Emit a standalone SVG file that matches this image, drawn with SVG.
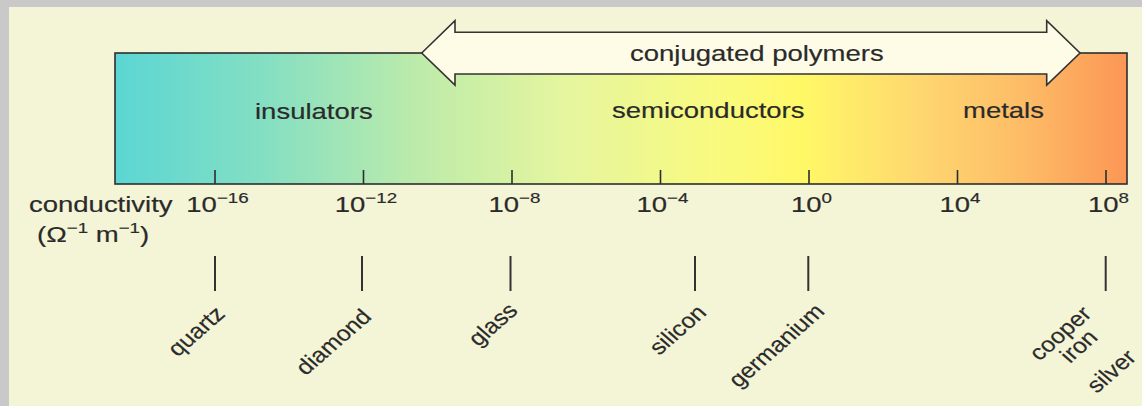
<svg xmlns="http://www.w3.org/2000/svg" width="1142" height="406" viewBox="0 0 1142 406">
  <style>
    .t { font-family: "Liberation Sans", Arial, sans-serif; font-size: 22px; fill: #2a2a2a; stroke: #2a2a2a; stroke-width: 0.18px; }
    .sup { font-size: 15px; }
    .rot { font-family: "Liberation Sans", Arial, sans-serif; font-size: 21.5px; fill: #2a2a2a; stroke: #2a2a2a; stroke-width: 0.18px; }
    .tick { stroke: #2e2e2e; stroke-width: 1.6; fill: none; }
    .mark { stroke: #333333; stroke-width: 2; fill: none; }
  </style>
  <defs>
    <linearGradient id="cond" x1="115" y1="0" x2="1127" y2="0" gradientUnits="userSpaceOnUse">
      <stop offset="0" stop-color="#5bd6d4"/>
      <stop offset="0.15" stop-color="#85dfc2"/>
      <stop offset="0.3" stop-color="#bdebaa"/>
      <stop offset="0.45" stop-color="#e6f69e"/>
      <stop offset="0.6" stop-color="#f9fa7e"/>
      <stop offset="0.68" stop-color="#fff866"/>
      <stop offset="0.8" stop-color="#fed670"/>
      <stop offset="0.9" stop-color="#fdbb66"/>
      <stop offset="1" stop-color="#fc9655"/>
    </linearGradient>
  </defs>

  <!-- frame -->
  <rect x="0" y="0" width="1142" height="406" fill="#c9c9c9"/>
  <rect x="9" y="7" width="1133" height="399" fill="#f4f4d6"/>

  <!-- conductivity bar -->
  <g id="bar">
    <rect x="115" y="53" width="1012" height="131" fill="url(#cond)" stroke="#2e2e2e" stroke-width="1.6"/>
    <path class="tick" d="M215 170V184M363.5 170V184M512 170V184M660.5 170V184M809 170V184M957.5 170V184M1106 170V184"/>
    <g transform="scale(1.25 1)">
      <text class="t" x="204" y="119">insulators</text>
      <text class="t" x="489.6" y="118.5">semiconductors</text>
      <text class="t" x="770.4" y="118.5">metals</text>
    </g>
  </g>

  <!-- conjugated polymers double arrow -->
  <g id="conjugated-polymers">
    <polygon points="421.7,53 455,20.7 455,32.3 1046.7,32.3 1046.7,20.7 1080,53 1046.7,85 1046.7,74 455,74 455,85" fill="#fefce6" stroke="#333333" stroke-width="1.6" stroke-linejoin="miter"/>
    <text class="t" x="504" y="61" transform="scale(1.25 1)">conjugated polymers</text>
  </g>

  <!-- axis labels -->
  <g id="axis-labels" transform="scale(1.25 1)">
    <text class="t" x="23.2" y="212">conductivity</text>
    <text class="t" x="29.6" y="242">(Ω<tspan class="sup" dy="-9">−1</tspan><tspan dy="9"> m</tspan><tspan class="sup" dy="-9">−1</tspan><tspan dy="9">)</tspan></text>
    <text class="t" x="174" y="212" text-anchor="middle">10<tspan class="sup" dy="-9">−16</tspan></text>
    <text class="t" x="292.8" y="212" text-anchor="middle">10<tspan class="sup" dy="-9">−12</tspan></text>
    <text class="t" x="411.6" y="212" text-anchor="middle">10<tspan class="sup" dy="-9">−8</tspan></text>
    <text class="t" x="530" y="212" text-anchor="middle">10<tspan class="sup" dy="-9">−4</tspan></text>
    <text class="t" x="649.2" y="212" text-anchor="middle">10<tspan class="sup" dy="-9">0</tspan></text>
    <text class="t" x="768" y="212" text-anchor="middle">10<tspan class="sup" dy="-9">4</tspan></text>
    <text class="t" x="886.8" y="212" text-anchor="middle">10<tspan class="sup" dy="-9">8</tspan></text>
  </g>

  <!-- material markers -->
  <g id="connectors">
    <path class="mark" d="M215 256V291M362 256V291M510.5 256V291M695 256V291M808.3 256V291M1105.7 256V291"/>
  </g>

  <g id="quartz"><text class="rot" text-anchor="end" transform="translate(226.3 315.2) scale(1.15 1) rotate(-45)">quartz</text></g>
  <g id="diamond"><text class="rot" text-anchor="end" transform="translate(372.7 318) scale(1.15 1) rotate(-45)">diamond</text></g>
  <g id="glass"><text class="rot" text-anchor="end" transform="translate(519 311.9) scale(1.15 1) rotate(-45)">glass</text></g>
  <g id="silicon"><text class="rot" text-anchor="end" transform="translate(707.7 313.7) scale(1.15 1) rotate(-45)">silicon</text></g>
  <g id="germanium"><text class="rot" text-anchor="end" transform="translate(825.8 312.6) scale(1.15 1) rotate(-45)">germanium</text></g>
  <g id="metals-list">
    <text class="rot" text-anchor="middle" transform="translate(1066 338.5) scale(1.15 1) rotate(-45)">cooper</text>
    <text class="rot" text-anchor="middle" transform="translate(1084.5 351.3) scale(1.15 1) rotate(-45)">iron</text>
    <text class="rot" text-anchor="middle" transform="translate(1117.2 376.3) scale(1.15 1) rotate(-45)">silver</text>
  </g>
</svg>
